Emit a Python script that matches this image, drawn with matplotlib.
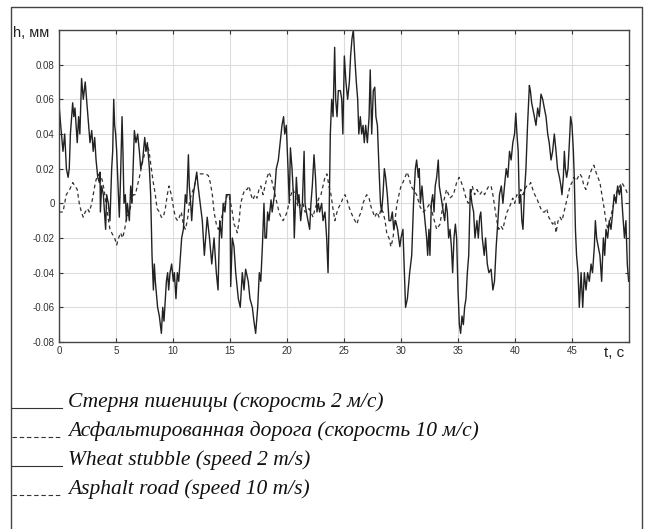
import matplotlib
matplotlib.use("Agg")
import matplotlib.pyplot as plt
from matplotlib.lines import Line2D

# ---- data ----
stubble_t = [0.0,0.15,0.35,0.5,0.65,0.8,0.9,1.0,1.2,1.3,1.4,1.6,1.72,1.83,1.98,2.13,2.3,2.48,2.6,2.72,2.87,3.0,3.13,3.25,3.4,3.54,3.6,3.63,3.74,3.89,4.09,4.18,4.33,4.47,4.62,4.71,4.8,4.88,4.97,5.06,5.12,5.29,5.38,5.53,5.61,5.7,5.82,5.91,6.0,6.17,6.29,6.4,6.61,6.75,6.9,7.05,7.17,7.34,7.52,7.63,7.75,7.93,8.04,8.16,8.28,8.36,8.45,8.65,8.8,8.98,9.1,9.21,9.42,9.53,9.62,9.74,9.88,10.03,10.12,10.26,10.38,10.5,10.76,10.91,11.08,11.2,11.35,11.43,11.55,11.64,11.78,12.08,12.2,
             12.57,12.75,13.0,13.2,13.4,13.6,13.8,13.95,14.1,14.27,14.4,14.56,14.68,14.85,15.0,15.06,15.2,15.35,15.5,15.73,15.9,16.08,16.23,16.37,16.6,16.75,16.96,17.1,17.25,17.43,17.57,17.7,17.84,17.98,18.07,18.19,18.3,18.42,18.6,18.7,18.9,19.06,19.24,19.4,19.56,19.7,19.8,19.94,20.09,20.2,20.3,20.44,20.56,20.64,20.82,20.96,21.05,21.2,21.35,21.5,21.58,21.7,21.84,21.99,22.1,22.22,22.37,22.5,22.63,22.75,22.86,23.04,23.16,23.33,23.48,23.6,23.7,23.8,23.92,24.04,24.18,24.27,24.39,24.5,24.68,24.8,24.9,25.03,25.17,25.32,25.47,25.58,25.7,25.82,25.94,26.08,26.2,26.3,26.43,26.55,26.67,26.78,26.9,27.05,27.2,27.3,27.43,27.57,27.7,27.8,27.93,28.07,28.2,28.3,28.42,28.54,28.65,28.8,28.95,29.1,29.24,29.36,29.53,29.7,29.9,30.0,30.17,30.3,30.4,30.56,30.76,30.94,31.1,31.26,31.37,31.52,31.6,31.7,31.84,31.96,32.1,32.25,32.34,32.45,32.54,32.66,32.78,32.9,33.0,33.13,33.27,33.36,33.48,33.6,33.71,33.83,33.95,34.06,34.18,34.3,34.42,34.53,34.65,34.77,34.88,
             35.0,35.12,35.23,35.35,35.47,35.58,35.7,35.82,35.94,36.08,36.22,36.37,36.49,36.66,36.78,36.9,37.0,37.13,37.3,37.42,37.57,37.71,37.9,38.06,38.2,38.35,38.5,38.64,38.8,38.94,39.08,39.23,39.37,39.52,39.66,39.81,39.96,40.07,40.17,40.28,40.38,40.5,40.6,40.7,40.82,40.96,41.1,41.26,41.35,41.46,41.55,41.7,41.84,41.99,42.13,42.28,42.43,42.57,42.72,42.87,43.0,43.16,43.3,43.45,43.6,43.73,43.9,44.03,44.12,44.24,44.33,44.42,44.53,44.65,44.77,44.88,45.0,45.12,45.2,45.3,45.4,45.53,45.64,45.8,45.94,46.08,46.23,46.37,46.52,46.67,46.8,46.96,47.05,47.16,47.3,47.45,47.6,47.75,47.87,47.98,48.13,48.27,48.42,48.57,48.7,48.86,49.0,49.15,49.3,49.44,49.6,49.73,49.85,49.97]
stubble_h = [0.057,0.045,0.030,0.040,0.020,0.015,0.020,0.040,0.058,0.050,0.055,0.035,0.050,0.040,0.072,0.060,0.070,0.055,0.045,0.035,0.042,0.030,0.038,0.025,0.015,0.012,0.018,-0.005,0.010,0.005,-0.015,0.005,0.000,-0.010,0.020,0.030,0.060,0.045,0.040,0.030,0.020,-0.008,0.010,0.050,0.030,0.000,0.005,-0.010,0.000,-0.010,0.010,0.000,0.042,0.035,0.040,0.030,0.020,0.025,0.038,0.030,0.035,0.020,0.005,-0.030,-0.050,-0.035,-0.045,-0.060,-0.065,-0.075,-0.060,-0.068,-0.045,-0.040,-0.050,-0.040,-0.035,-0.045,-0.040,-0.055,-0.040,-0.045,-0.020,-0.015,0.005,0.000,0.028,0.010,0.000,-0.010,0.005,0.018,0.010,
             -0.010,-0.030,-0.008,-0.020,-0.035,-0.020,-0.040,-0.050,-0.010,-0.020,0.000,-0.005,0.005,0.005,0.005,-0.048,-0.020,-0.025,-0.040,-0.055,-0.060,-0.040,-0.050,-0.038,-0.045,-0.055,-0.060,-0.068,-0.075,-0.060,-0.040,-0.045,-0.025,0.000,-0.020,-0.020,-0.005,-0.010,0.002,-0.005,0.005,0.020,0.025,0.035,0.045,0.050,0.040,0.045,0.020,0.000,0.032,0.020,0.005,-0.020,0.015,0.000,0.005,-0.010,0.000,0.030,0.000,-0.005,-0.010,-0.015,0.000,0.010,0.028,0.015,-0.005,0.000,-0.005,0.000,-0.010,-0.005,-0.020,-0.040,-0.005,0.040,0.060,0.050,0.090,0.060,0.050,0.065,0.065,0.060,0.040,0.085,0.070,0.060,0.070,0.085,0.095,0.100,0.085,0.070,0.060,0.040,0.050,0.040,0.045,0.035,0.045,0.035,0.050,0.077,0.040,0.065,0.067,0.050,0.045,0.020,0.000,-0.005,0.005,0.020,0.015,0.005,-0.010,-0.010,-0.005,-0.015,-0.010,-0.015,-0.025,-0.020,-0.015,-0.040,-0.060,-0.055,-0.040,-0.030,0.000,0.020,0.025,0.015,0.020,0.000,0.010,0.000,-0.010,-0.020,-0.030,-0.015,-0.030,0.000,0.005,-0.005,0.010,0.015,0.025,0.010,0.005,0.000,-0.005,-0.010,0.000,-0.005,-0.020,-0.015,-0.025,-0.040,-0.020,-0.012,-0.020,
             -0.050,-0.070,-0.075,-0.065,-0.070,-0.060,-0.055,-0.040,-0.030,0.008,0.000,-0.005,-0.020,-0.010,-0.020,-0.008,-0.005,-0.020,-0.030,-0.020,-0.035,-0.040,-0.038,-0.050,-0.045,-0.025,-0.010,0.005,0.010,0.000,0.010,0.020,0.015,0.030,0.025,0.035,0.040,0.052,0.040,0.030,0.000,0.005,-0.010,-0.015,0.005,0.020,0.045,0.068,0.065,0.058,0.055,0.050,0.045,0.055,0.050,0.063,0.060,0.055,0.050,0.040,0.035,0.025,0.030,0.040,0.030,0.020,0.015,0.010,0.005,0.015,0.030,0.020,0.015,0.020,0.035,0.050,0.045,0.030,0.015,-0.015,-0.030,-0.040,-0.060,-0.040,-0.060,-0.040,-0.050,-0.040,-0.045,-0.035,-0.040,-0.025,-0.010,-0.020,-0.025,-0.030,-0.045,-0.020,-0.030,-0.015,-0.020,-0.010,-0.015,-0.005,0.005,0.000,0.010,0.005,0.010,-0.005,-0.020,-0.010,-0.035,-0.045]

asphalt_t = [0.0,0.35,0.64,0.94,1.2,1.4,1.6,1.78,1.96,2.13,2.3,2.5,2.66,2.87,3.0,3.19,3.4,3.6,3.77,3.95,4.12,4.3,4.47,4.7,4.88,5.06,5.23,5.4,5.58,5.76,5.94,6.17,6.35,6.52,6.7,6.87,7.05,7.2,7.37,7.57,7.75,7.9,8.1,8.27,8.45,8.6,8.8,8.98,9.15,9.33,9.5,9.65,9.85,10.03,10.2,10.4,10.55,10.73,10.9,11.08,11.26,11.43,11.6,11.78,11.96,12.13,12.37,12.6,12.87,13.1,13.27,13.45,13.6,13.8,13.98,14.1,14.27,14.4,14.56,14.77,14.9,15.06,15.2,15.35,15.5,15.64,15.8,15.94,16.14,16.3,16.5,16.67,16.84,17.0,17.2,17.37,17.54,17.7,17.9,18.07,18.25,18.42,18.6,18.77,18.95,19.12,19.3,19.47,19.65,19.82,20.0,20.18,20.35,20.53,20.7,20.88,21.05,21.23,21.4,21.58,21.75,21.93,22.1,22.28,22.46,22.63,22.8,22.98,23.16,23.33,23.5,23.68,23.86,24.03,24.2,24.39,24.56,24.74,24.9,25.09,25.26,25.44,25.6,25.8,25.96,26.14,26.3,26.5,26.67,26.84,27.0,27.2,27.37,27.54,27.7,27.9,28.07,28.25,28.42,28.6,28.77,28.95,29.12,29.3,29.47,29.65,29.82,30.0,30.17,30.35,30.53,30.7,30.88,31.08,31.37,31.67,31.96,32.25,32.54,32.84,33.13,33.42,33.7,34.0,34.3,34.6,34.88,35.1,35.3,35.5,35.7,35.9,36.08,36.25,36.46,36.66,36.9,37.13,37.33,37.54,37.7,37.9,38.06,38.24,38.4,38.58,38.76,38.94,39.1,39.3,39.46,39.64,39.8,39.98,40.16,40.34,40.5,40.7,40.85,41.03,41.2,41.38,41.56,41.73,41.9,42.08,42.26,42.43,42.6,42.78,42.96,43.13,43.3,43.48,43.6,43.78,43.95,44.13,44.3,44.48,44.65,44.83,45.0,45.17,45.35,45.52,45.7,45.87,46.05,46.22,46.4,46.57,46.75,46.92,47.1,47.27,47.45,47.62,47.8,47.97,48.15,48.32,48.5,48.67,48.85,49.0,49.2,49.37,49.55,49.72,49.9]
asphalt_h = [-0.005,-0.005,0.005,0.008,0.012,0.010,0.008,0.000,-0.005,-0.008,-0.005,-0.003,-0.005,0.000,0.005,0.012,0.017,0.015,0.014,0.008,0.000,-0.008,-0.015,-0.018,-0.020,-0.024,-0.020,-0.017,-0.020,-0.015,-0.008,-0.005,0.000,0.005,0.005,0.010,0.015,0.020,0.025,0.030,0.033,0.030,0.020,0.012,0.005,-0.003,-0.005,-0.008,-0.008,-0.003,0.005,0.010,0.005,-0.002,-0.008,-0.010,-0.008,-0.005,-0.012,-0.015,-0.010,0.000,0.005,0.008,0.012,0.016,0.017,0.017,0.017,0.016,0.012,0.005,-0.005,-0.012,-0.015,-0.012,-0.008,-0.005,0.000,0.005,0.005,0.000,-0.005,-0.012,-0.014,-0.017,-0.010,0.000,0.005,0.008,0.008,0.010,0.005,0.002,0.005,0.003,0.008,0.010,0.005,0.010,0.015,0.018,0.015,0.010,0.005,0.000,-0.005,-0.008,-0.010,-0.008,-0.005,0.000,0.005,0.008,0.005,0.000,-0.003,0.000,0.000,-0.005,-0.005,-0.003,-0.005,-0.008,-0.003,0.000,0.003,0.005,0.010,0.015,0.017,0.010,0.005,-0.003,-0.010,-0.005,-0.002,0.000,0.003,0.005,0.002,-0.002,-0.005,-0.008,-0.010,-0.012,-0.008,-0.005,0.000,0.003,0.005,0.003,-0.002,-0.005,-0.008,-0.005,-0.008,-0.003,-0.005,-0.010,-0.018,-0.020,-0.025,-0.020,-0.010,0.000,0.005,0.010,0.012,0.015,0.018,0.015,0.010,0.008,0.005,-0.002,-0.005,-0.003,0.000,-0.008,-0.015,-0.012,0.000,0.008,0.003,0.005,0.012,0.015,0.012,0.008,0.003,0.000,0.003,0.010,0.005,0.008,0.005,0.007,0.005,0.008,0.010,0.010,0.005,-0.003,-0.010,-0.015,-0.013,-0.015,-0.010,-0.005,-0.003,0.000,0.003,0.000,0.005,0.003,0.008,0.005,0.008,0.010,0.010,0.012,0.008,0.005,0.003,0.000,-0.003,-0.005,-0.005,-0.003,-0.008,-0.010,-0.012,-0.010,-0.017,-0.010,-0.008,-0.010,-0.005,0.000,0.005,0.010,0.012,0.015,0.013,0.015,0.017,0.015,0.010,0.008,0.012,0.017,0.020,0.022,0.018,0.015,0.012,0.005,-0.002,-0.010,-0.015,-0.010,-0.005,0.000,0.005,0.008,0.010,0.012,0.010,0.008,0.005]

x_ticks = [0, 5, 10, 15, 20, 25, 30, 35, 40, 45]
y_ticks = [-0.08, -0.06, -0.04, -0.02, 0, 0.02, 0.04, 0.06, 0.08]
y_tick_labels = ["-0.08", "-0.06", "-0.04", "-0.02", "0", "0.02", "0.04", "0.06", "0.08"]
legend_labels = ["Стерня пшеницы (скорость 2 м/с)",
                 "Асфальтированная дорога (скорость 10 м/с)",
                 "Wheat stubble (speed 2 m/s)",
                 "Asphalt road (speed 10 m/s)"]
legend_styles = ["-", "--", "-", "--"]
x_label = "t, c"
y_label = "h, мм"

W, H = 650, 529
fig = plt.figure(figsize=(W / 100, H / 100), dpi=100)
fig.patch.set_facecolor("white")

ax = fig.add_axes([59 / W, 1 - 342 / H, (629 - 59) / W, (342 - 30) / H])
ax.plot(asphalt_t, asphalt_h, color="#333333", lw=0.9, ls=(0, (3, 2.5)))
ax.plot(stubble_t, stubble_h, color="#222222", lw=1.0)
ax.set_xlim(0, 50)
ax.set_ylim(-0.08, 0.1)
ax.set_xticks(x_ticks)
ax.set_xticklabels([str(v) for v in x_ticks])
ax.set_yticks(y_ticks)
ax.set_yticklabels(y_tick_labels)
ax.grid(True, color="#dcdcdc", lw=0.8)
ax.set_axisbelow(True)
ax.tick_params(direction="in", length=3, width=0.8, top=True, right=True,
               labelsize=7, pad=3, colors="#333333")
for lbl in ax.get_xticklabels() + ax.get_yticklabels():
    lbl.set_fontfamily("Liberation Sans")
    lbl.set_color("#333333")
for s in ax.spines.values():
    s.set_color("#444444")
    s.set_linewidth(1.0)

fig.text(13 / W, 1 - 33 / H, y_label, fontsize=10.5, family="Liberation Sans",
         color="#222222", ha="left", va="center")
fig.text(614 / W, 1 - 353 / H, x_label, fontsize=11, family="Liberation Sans",
         color="#222222", ha="center", va="center")

# outer frame (left, top, right)
fx0, fx1, fy1 = 11 / W, 642 / W, 1 - 7 / H
fig.add_artist(Line2D([fx0, fx0, fx1, fx1], [0, fy1, fy1, 0], transform=fig.transFigure,
                      color="#444444", lw=1.0))

# legend rows below
rows_y = [402, 431, 460, 489]
for lab, st, yy in zip(legend_labels, legend_styles, rows_y):
    yf = 1 - (yy + 6) / H
    ls = "-" if st == "-" else (0, (4, 2.5))
    fig.add_artist(Line2D([12 / W, 62 / W], [yf, yf], transform=fig.transFigure,
                          color="#333333", lw=0.8, ls=ls))
    fig.text(68 / W, 1 - yy / H, lab, fontsize=15.5, family="Liberation Serif",
             style="italic", color="#111111", ha="left", va="center")

fig.savefig("out.png", dpi=100)
